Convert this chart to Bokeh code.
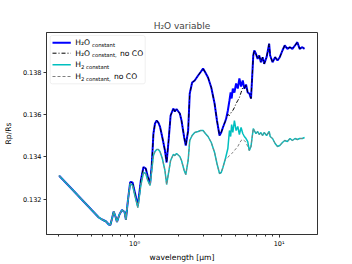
from bokeh.plotting import figure
from bokeh.models import Range1d, FixedTicker, Label, Arrow, BoxAnnotation
from bokeh.embed import file_html
from bokeh.resources import INLINE

# wavelength grid [micron]
wavelength = [0.301, 0.371, 0.4345, 0.5089, 0.5659, 0.5962, 0.6353, 0.6631, 0.6801, 0.6986,
              0.7174, 0.7381, 0.7557, 0.7861, 0.8181, 0.8535, 0.8714, 0.8994, 0.9328, 0.969,
              1.005, 1.054, 1.105, 1.153, 1.196, 1.234, 1.28, 1.315, 1.351, 1.385,
              1.423, 1.461, 1.499, 1.557, 1.623, 1.667, 1.72, 1.776, 1.853, 1.9,
              1.952, 2.057, 2.113, 2.205, 2.262, 2.349, 2.409, 2.502, 2.608, 2.752,
              2.867, 2.978, 3.089, 3.224, 3.395, 3.578, 3.716, 3.872, 3.978, 4.086,
              4.236, 4.304, 4.421, 4.535, 4.622, 4.696, 4.785, 4.908, 5.042, 5.18,
              5.313, 5.457, 5.606, 5.75, 5.906, 6.067, 6.223, 6.392, 6.494, 6.628,
              6.734, 6.918, 7.106, 7.288, 7.486, 7.691, 7.889, 8.194, 8.537, 8.674,
              9.009, 9.387, 9.75, 10.11, 10.55, 10.94, 11.42, 11.9, 12.36, 12.88,
              13.38, 13.88, 14.48, 15.01]

h2o_constant = [0.133105, 0.132455, 0.131958, 0.13146, 0.131128, 0.131034, 0.130939, 0.130797, 0.130773, 0.131081,
                0.131413, 0.131176, 0.130915, 0.131271, 0.131484, 0.131389, 0.131034, 0.131934, 0.132811, 0.132787,
                0.132313, 0.131697, 0.132882, 0.133522, 0.133451, 0.133071, 0.132716, 0.133593, 0.135109, 0.135583,
                0.135725, 0.13563, 0.135441, 0.13492, 0.134304, 0.133735, 0.134777, 0.135962, 0.136294, 0.136152,
                0.13627, 0.136057, 0.135725, 0.13492, 0.13454, 0.135251, 0.137005, 0.137526, 0.137621, 0.137858,
                0.138024, 0.13819, 0.138, 0.137763, 0.137289, 0.136531, 0.135725, 0.135014, 0.135157, 0.135394,
                0.135678, 0.13582, 0.136199, 0.136673, 0.137052, 0.136768, 0.137242, 0.137052, 0.137479, 0.137242,
                0.137716, 0.137337, 0.137621, 0.137242, 0.137431, 0.137052, 0.137005, 0.136768, 0.137621, 0.138806,
                0.139043, 0.138886, 0.138649, 0.138806, 0.138488, 0.138725, 0.138412, 0.138725, 0.13936, 0.138806,
                0.138488, 0.138725, 0.138569, 0.138725, 0.139043, 0.13928, 0.139123, 0.139199, 0.139123, 0.13928,
                0.139436, 0.139123, 0.139199, 0.139123]

h2o_constant_no_co = [0.133105, 0.132455, 0.131958, 0.13146, 0.131128, 0.131034, 0.130939, 0.130797, 0.130773, 0.131081,
                      0.131413, 0.131176, 0.130915, 0.131271, 0.131484, 0.131389, 0.131034, 0.131934, 0.132811, 0.132787,
                      0.132313, 0.131697, 0.132882, 0.133522, 0.133451, 0.133071, 0.132716, 0.133593, 0.135109, 0.135583,
                      0.135725, 0.13563, 0.135441, 0.13492, 0.134304, 0.133735, 0.134777, 0.135962, 0.136294, 0.136152,
                      0.13627, 0.136057, 0.135725, 0.13492, 0.13454, 0.135251, 0.137005, 0.137526, 0.137621, 0.137858,
                      0.138024, 0.13819, 0.138, 0.137763, 0.137289, 0.136531, 0.135725, 0.135014, 0.135157, 0.135394,
                      0.135678, 0.13582, 0.13601, 0.135962, 0.136057, 0.136152, 0.136199, 0.136341, 0.136531, 0.136673,
                      0.136815, 0.137052, 0.137289, 0.137242, 0.137431, 0.137052, 0.137005, 0.136768, 0.137621, 0.138806,
                      0.139043, 0.138886, 0.138649, 0.138806, 0.138488, 0.138725, 0.138412, 0.138725, 0.13936, 0.138806,
                      0.138488, 0.138725, 0.138569, 0.138725, 0.139043, 0.13928, 0.139123, 0.139199, 0.139123, 0.13928,
                      0.139436, 0.139123, 0.139199, 0.139123]

h2_constant = [0.133105, 0.132455, 0.131958, 0.13146, 0.131128, 0.131034, 0.130939, 0.130797, 0.130773, 0.131081,
               0.131413, 0.131176, 0.130915, 0.131271, 0.131484, 0.131389, 0.131034, 0.131934, 0.13274, 0.132645,
               0.132171, 0.131602, 0.132645, 0.133261, 0.133214, 0.132882, 0.132645, 0.133356, 0.134067, 0.134256,
               0.134351, 0.134351, 0.134256, 0.133924, 0.133356, 0.132692, 0.133261, 0.13383, 0.134114, 0.134067,
               0.134161, 0.134019, 0.13383, 0.133356, 0.133166, 0.13383, 0.134777, 0.135014, 0.135157, 0.135204,
               0.135251, 0.135251, 0.135109, 0.134967, 0.134683, 0.134209, 0.133688, 0.133214, 0.133261, 0.133498,
               0.133877, 0.134067, 0.134398, 0.135251, 0.134967, 0.135536, 0.135157, 0.135725, 0.135251, 0.135441,
               0.135062, 0.135394, 0.135109, 0.134967, 0.134872, 0.13473, 0.134304, 0.134493, 0.134872, 0.135346,
               0.135251, 0.135109, 0.135204, 0.135062, 0.135157, 0.135014, 0.135157, 0.135014, 0.135204, 0.134967,
               0.134872, 0.134635, 0.134493, 0.13454, 0.134683, 0.134777, 0.13473, 0.134872, 0.134777, 0.134872,
               0.134825, 0.134872, 0.134872, 0.13492]

h2_constant_no_co = [0.133105, 0.132455, 0.131958, 0.13146, 0.131128, 0.131034, 0.130939, 0.130797, 0.130773, 0.131081,
                     0.131413, 0.131176, 0.130915, 0.131271, 0.131484, 0.131389, 0.131034, 0.131934, 0.13274, 0.132645,
                     0.132171, 0.131602, 0.132645, 0.133261, 0.133214, 0.132882, 0.132645, 0.133356, 0.134067, 0.134256,
                     0.134351, 0.134351, 0.134256, 0.133924, 0.133356, 0.132692, 0.133261, 0.13383, 0.134114, 0.134067,
                     0.134161, 0.134019, 0.13383, 0.133356, 0.133166, 0.13383, 0.134777, 0.135014, 0.135157, 0.135204,
                     0.135251, 0.135251, 0.135109, 0.134967, 0.134683, 0.134209, 0.133688, 0.133214, 0.133261, 0.133498,
                     0.133877, 0.133924, 0.133972, 0.134067, 0.134114, 0.134161, 0.134209, 0.134304, 0.134398, 0.134493,
                     0.134635, 0.134777, 0.134825, 0.134777, 0.134683, 0.134493, 0.134304, 0.134493, 0.134872, 0.135346,
                     0.135251, 0.135109, 0.135204, 0.135062, 0.135157, 0.135014, 0.135157, 0.135014, 0.135204, 0.134967,
                     0.134872, 0.134635, 0.134493, 0.13454, 0.134683, 0.134777, 0.13473, 0.134872, 0.134777, 0.134872,
                     0.134825, 0.134872, 0.134872, 0.13492]

y_ticks = [0.132, 0.134, 0.136, 0.138]
x_major_ticks = [1, 10]
x_minor_ticks = [0.3, 0.4, 0.5, 0.6, 0.7, 0.8, 0.9, 2, 3, 4, 5, 6, 7, 8, 9]
x_tick_labels = {1: "10⁰", 10: "10¹"}

FONT = "DejaVu Sans"

p = figure(width=352, height=264, x_axis_type="log",
           x_range=Range1d(0.2459, 18.44), y_range=Range1d(0.130323, 0.139896),
           output_backend="svg", toolbar_location=None,
           min_border_left=44, min_border_right=35, min_border_top=32, min_border_bottom=30)

p.title.text = "H₂O variable"
p.title.text_font = FONT
p.title.text_font_size = "9px"
p.title.text_font_style = "normal"
p.title.align = "center"
p.title.standoff = 3

p.xgrid.visible = False
p.ygrid.visible = False
p.outline_line_color = "#333333"
p.outline_line_width = 1

p.xaxis.ticker = FixedTicker(ticks=x_major_ticks, minor_ticks=x_minor_ticks)
p.xaxis.major_label_overrides = x_tick_labels
p.yaxis.ticker = FixedTicker(ticks=y_ticks, minor_ticks=[])
p.xaxis.axis_label = "wavelength [µm]"
p.yaxis.axis_label = "Rp/Rs"
for ax in (p.xaxis, p.yaxis):
    ax.axis_line_color = "#333333"
    ax.major_tick_line_color = "#333333"
    ax.minor_tick_line_color = "#333333"
    ax.major_tick_in = 0
    ax.major_tick_out = 3
    ax.minor_tick_in = 0
    ax.minor_tick_out = 2
    ax.major_label_text_font = FONT
    ax.major_label_text_font_size = "6.5px"
    ax.major_label_text_color = "black"
    ax.axis_label_text_font = FONT
    ax.axis_label_text_font_size = "7.6px"
    ax.axis_label_text_font_style = "normal"
    ax.axis_label_text_color = "black"
    ax.major_label_standoff = 2
p.xaxis.axis_label_standoff = 2
p.yaxis.axis_label_standoff = 7

p.line(wavelength, h2o_constant, line_color="blue", line_width=2)
p.line(wavelength, h2o_constant_no_co, line_color="black", line_width=1, line_dash="4 2 1 2")
p.line(wavelength, h2_constant, line_color="#00bfbf", line_width=1.5)
p.line(wavelength, h2_constant_no_co, line_color="gray", line_width=1, line_dash="3 2")

# custom legend (screen units relative to plot frame)
p.add_layout(BoxAnnotation(left=3.7, right=98.7, top=199, bottom=150.7,
                           left_units="screen", right_units="screen", top_units="screen", bottom_units="screen",
                           fill_color="white", fill_alpha=0.8, line_color="#cccccc", line_width=1,
                           border_radius=2))
rows_y = [191.7, 181.3, 169.7, 158.0]
styles = [dict(line_color="blue", line_width=2),
          dict(line_color="black", line_width=1, line_dash="4 2 1 2"),
          dict(line_color="#00bfbf", line_width=1.5),
          dict(line_color="gray", line_width=1, line_dash="3 2")]
for yy, st in zip(rows_y, styles):
    p.add_layout(Arrow(x_start=6, y_start=yy, x_end=24.3, y_end=yy,
                       start_units="screen", end_units="screen", end=None, **st))


def lab(x, y, text, size):
    p.add_layout(Label(x=x, y=y, x_units="screen", y_units="screen", text=text,
                       text_font=FONT, text_font_size=size, text_baseline="middle",
                       text_align="left", text_color="black"))


MAIN = "7.6px"
SUB = "5.3px"
lab(28.7, rows_y[0], "H₂O", MAIN)
lab(45.5, rows_y[0] - 2, "constant", SUB)
lab(28.7, rows_y[1], "H₂O", MAIN)
lab(45.5, rows_y[1] - 2, "constant,", SUB)
lab(73.5, rows_y[1], "no CO", MAIN)
lab(28.7, rows_y[2], "H", MAIN)
lab(34.5, rows_y[2] - 2, "2 constant", SUB)
lab(28.7, rows_y[3], "H", MAIN)
lab(34.5, rows_y[3] - 2, "2 constant,", SUB)
lab(67.5, rows_y[3], "no CO", MAIN)

open("out.html", "w").write(file_html(p, INLINE))
